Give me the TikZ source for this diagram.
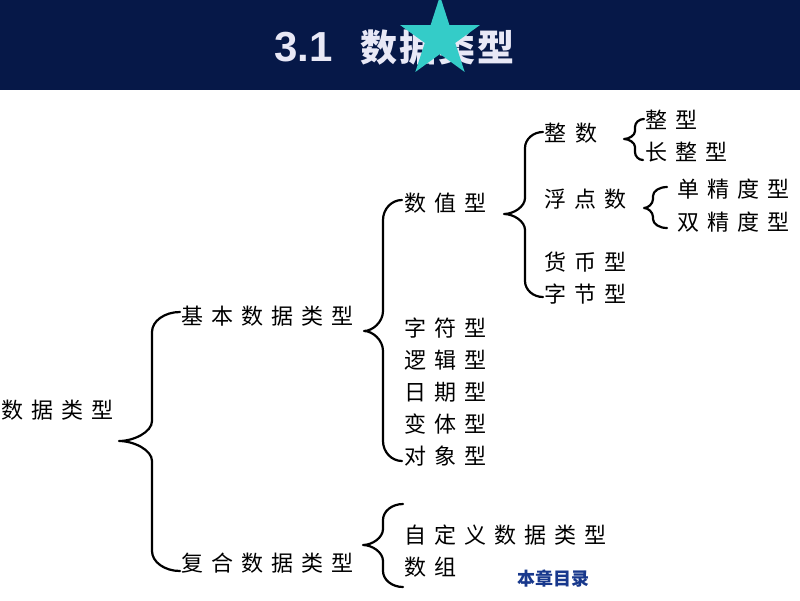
\documentclass[tikz,border=0pt]{standalone}
\usepackage{fontspec}
\usetikzlibrary{calc}
\newfontfamily\cjk{Noto Sans CJK SC}
\newfontfamily\arialb{Liberation Sans}
\definecolor{navy}{RGB}{6,24,72}
\definecolor{titlec}{RGB}{232,232,246}
\definecolor{starc}{RGB}{52,204,200}
\definecolor{linkc}{RGB}{24,56,140}
\makeatletter
\newcommand\spc[2][8pt]{\def\spc@gap{#1}\let\spc@sep\relax\@tfor\spc@c:=#2\do{\spc@sep\spc@c\def\spc@sep{\hspace{\spc@gap}}}}
\makeatother
% #1 top end, #2 tip, #3 bottom end, #4 x of the vertical stroke, #5 curl height
\newcommand\brc[5]{%
\draw[brcline] let \p1=(#1), \p2=(#2), \p3=(#3), \p4=(#4,0) in
 (\p1) .. controls ({\x1-0.55*(\x1-\x4)},\y1) and (\x4,{\y1-0.45*#5}) .. (\x4,\y1-#5)
 -- (\x4,\y2+#5) .. controls (\x4,{\y2+0.45*#5}) and ({\x2+0.45*(\x4-\x2)},\y2) .. (\p2)
 .. controls ({\x2+0.45*(\x4-\x2)},\y2) and (\x4,{\y2-0.45*#5}) .. (\x4,\y2-#5)
 -- (\x4,\y3+#5) .. controls (\x4,{\y3+0.45*#5}) and ({\x3-0.55*(\x3-\x4)},\y3) .. (\p3);}
\tikzset{
 lbl/.style={anchor=west, inner sep=0pt, font=\cjk\fontsize{22}{26}\selectfont},
 brcline/.style={line width=2.2pt, line join=round, line cap=round, black},
}
\begin{document}
\begin{tikzpicture}[x=1pt,y=-1pt]
\useasboundingbox (0,0) rectangle (800,600);
\fill[navy] (0,0) rectangle (800,90);
\node[anchor=west, inner sep=0pt, text=titlec] (title) at (274,48) {\arialb\bfseries\fontsize{42}{46}\selectfont 3.1\hspace{28pt}\cjk\fontsize{37}{42}\selectfont\spc[2pt]{数据类型}};
\fill[starc] (440,38) +(-90:42) -- +(-54:16) -- +(-18:42) -- +(18:16) -- +(54:42) -- +(90:16) -- +(126:42) -- +(162:16) -- +(198:42) -- +(234:16) -- cycle;

\node[lbl] (root) at (1,410) {\spc{数据类型}};
\node[lbl] (n1) at (181,316) {\spc{基本数据类型}};
\node[lbl] (n2) at (181,563) {\spc{复合数据类型}};
\node[lbl] (n11) at (404,203) {\spc{数值型}};
\node[lbl] (n12) at (404,328) {\spc{字符型}};
\node[lbl] (n13) at (404,360) {\spc{逻辑型}};
\node[lbl] (n14) at (404,392) {\spc{日期型}};
\node[lbl] (n15) at (404,424) {\spc{变体型}};
\node[lbl] (n16) at (404,456) {\spc{对象型}};
\node[lbl] (n111) at (544,133) {\spc[9pt]{整数}};
\node[lbl] (n112) at (544,199) {\spc{浮点数}};
\node[lbl] (n113) at (544,262) {\spc{货币型}};
\node[lbl] (n114) at (544,294) {\spc{字节型}};
\node[lbl] (n1111) at (645,120) {\spc{整型}};
\node[lbl] (n1112) at (645,152) {\spc{长整型}};
\node[lbl] (n1121) at (677,189) {\spc{单精度型}};
\node[lbl] (n1122) at (677,222) {\spc{双精度型}};
\node[lbl] (n21) at (404,535) {\spc{自定义数据类型}};
\node[lbl] (n22) at (404,567) {\spc{数组}};
\node[anchor=west, inner sep=0pt, text=linkc, font=\cjk\bfseries\fontsize{18}{20}\selectfont] (toc) at (517,579) {本章目录};

\coordinate (b1a) at (180,312); \coordinate (b1t) at (119,441); \coordinate (b1b) at (180,571);
\coordinate (b2a) at (402,200); \coordinate (b2t) at (364,331); \coordinate (b2b) at (402,461);
\coordinate (b3a) at (543,132); \coordinate (b3t) at (504,214); \coordinate (b3b) at (543,297);
\coordinate (b4a) at (644,119); \coordinate (b4t) at (624,139); \coordinate (b4b) at (643,160);
\coordinate (b5a) at (667,187); \coordinate (b5t) at (644,208); \coordinate (b5b) at (667,228);
\coordinate (b6a) at (403,504); \coordinate (b6t) at (363,545); \coordinate (b6b) at (403,587);
\brc{b1a}{b1t}{b1b}{152}{20pt}
\brc{b2a}{b2t}{b2b}{383}{20pt}
\brc{b3a}{b3t}{b3b}{525}{16pt}
\brc{b4a}{b4t}{b4b}{635}{8pt}
\brc{b5a}{b5t}{b5b}{653}{9pt}
\brc{b6a}{b6t}{b6b}{383}{16pt}
\end{tikzpicture}
\end{document}
